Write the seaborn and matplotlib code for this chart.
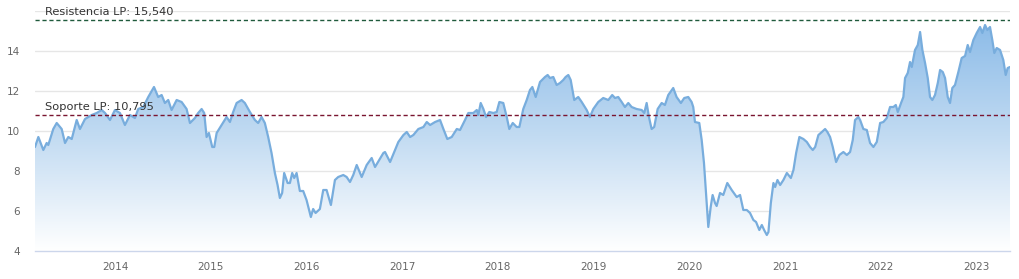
import numpy as np
import pandas as pd
import matplotlib
matplotlib.use("Agg")
import matplotlib.pyplot as plt
import matplotlib.dates as mdates
from matplotlib.colors import LinearSegmentedColormap
from matplotlib.patches import PathPatch
import seaborn as sns

# ---- data (decimal year, price) ----
fecha = [
    2013.164, 2013.199, 2013.251, 2013.286, 2013.303, 2013.355, 2013.391, 2013.443, 2013.478, 2013.512,
    2013.548, 2013.600, 2013.634, 2013.687, 2013.757, 2013.809, 2013.861, 2013.896, 2013.948, 2014.000,
    2014.052, 2014.104, 2014.157, 2014.209, 2014.243, 2014.296, 2014.348, 2014.408, 2014.452, 2014.488,
    2014.522, 2014.557, 2014.592, 2014.645, 2014.697, 2014.749, 2014.784, 2014.836, 2014.870, 2014.906,
    2014.933, 2014.958, 2014.982, 2015.017, 2015.038, 2015.063, 2015.115, 2015.167, 2015.202, 2015.236,
    2015.272, 2015.324, 2015.358, 2015.411, 2015.463, 2015.497, 2015.533, 2015.567, 2015.602, 2015.637,
    2015.672, 2015.700, 2015.724, 2015.748, 2015.769, 2015.805, 2015.829, 2015.853, 2015.874, 2015.899,
    2015.933, 2015.968, 2016.003, 2016.048, 2016.072, 2016.097, 2016.142, 2016.177, 2016.212, 2016.257,
    2016.299, 2016.333, 2016.386, 2016.421, 2016.456, 2016.490, 2016.526, 2016.578, 2016.630, 2016.682,
    2016.717, 2016.804, 2016.821, 2016.874, 2016.926, 2016.960, 2017.013, 2017.048, 2017.083, 2017.117,
    2017.169, 2017.222, 2017.257, 2017.292, 2017.344, 2017.396, 2017.431, 2017.472, 2017.518, 2017.571,
    2017.605, 2017.657, 2017.692, 2017.744, 2017.780, 2017.796, 2017.821, 2017.849, 2017.877, 2017.911,
    2017.953, 2017.988, 2018.016, 2018.057, 2018.093, 2018.120, 2018.156, 2018.197, 2018.225, 2018.266,
    2018.302, 2018.336, 2018.361, 2018.396, 2018.441, 2018.493, 2018.521, 2018.545, 2018.580, 2018.615,
    2018.650, 2018.684, 2018.709, 2018.737, 2018.762, 2018.799, 2018.841, 2018.877, 2018.929, 2018.963,
    2018.998, 2019.050, 2019.102, 2019.155, 2019.196, 2019.225, 2019.259, 2019.295, 2019.329, 2019.364,
    2019.399, 2019.451, 2019.504, 2019.531, 2019.556, 2019.580, 2019.608, 2019.635, 2019.671, 2019.713,
    2019.747, 2019.782, 2019.834, 2019.869, 2019.914, 2019.949, 2019.991, 2020.026, 2020.043, 2020.061,
    2020.106, 2020.131, 2020.155, 2020.176, 2020.200, 2020.225, 2020.245, 2020.270, 2020.287, 2020.322,
    2020.356, 2020.398, 2020.444, 2020.496, 2020.531, 2020.565, 2020.601, 2020.635, 2020.670, 2020.698,
    2020.732, 2020.758, 2020.782, 2020.810, 2020.827, 2020.852, 2020.879, 2020.897, 2020.921, 2020.949,
    2020.983, 2021.019, 2021.061, 2021.088, 2021.116, 2021.150, 2021.192, 2021.228, 2021.262, 2021.290,
    2021.315, 2021.349, 2021.385, 2021.419, 2021.443, 2021.471, 2021.499, 2021.534, 2021.568, 2021.610,
    2021.646, 2021.680, 2021.708, 2021.732, 2021.767, 2021.785, 2021.819, 2021.855, 2021.889, 2021.924,
    2021.959, 2021.994, 2022.028, 2022.064, 2022.098, 2022.133, 2022.158, 2022.179, 2022.213, 2022.237,
    2022.255, 2022.283, 2022.307, 2022.325, 2022.359, 2022.388, 2022.412, 2022.436, 2022.464, 2022.492,
    2022.516, 2022.540, 2022.568, 2022.597, 2022.621, 2022.649, 2022.673, 2022.701, 2022.725, 2022.749,
    2022.777, 2022.812, 2022.847, 2022.882, 2022.910, 2022.934, 2022.969, 2023.004, 2023.039, 2023.063,
    2023.091, 2023.115, 2023.143, 2023.167, 2023.188, 2023.213, 2023.248, 2023.282, 2023.307, 2023.328,
    2023.352,
]
precio = [
    9.2, 9.7, 9.05, 9.4, 9.3, 10.1, 10.4, 10.1, 9.4, 9.7,
    9.6, 10.55, 10.1, 10.6, 10.8, 10.9, 11.05, 10.9, 10.55, 11.05,
    10.9, 10.3, 10.8, 10.65, 11.1, 11.2, 11.7, 12.2, 11.7, 11.8,
    11.4, 11.55, 11.05, 11.55, 11.45, 11.1, 10.4, 10.65, 10.9, 11.1,
    10.9, 9.7, 9.9, 9.2, 9.2, 9.9, 10.3, 10.7, 10.45, 10.95,
    11.4, 11.55, 11.4, 10.95, 10.55, 10.4, 10.7, 10.4, 9.7, 8.9,
    7.9, 7.3, 6.65, 6.9, 7.9, 7.4, 7.4, 7.9, 7.65, 7.9,
    7.0, 7.0, 6.55, 5.7, 6.1, 5.9, 6.1, 7.05, 7.05, 6.3,
    7.55, 7.7, 7.8, 7.7, 7.45, 7.8, 8.3, 7.7, 8.3, 8.65,
    8.2, 8.9, 8.95, 8.45, 9.05, 9.45, 9.8, 9.95, 9.7, 9.8,
    10.1, 10.2, 10.45, 10.3, 10.45, 10.55, 10.1, 9.6, 9.7, 10.1,
    10.05, 10.55, 10.9, 10.9, 11.05, 10.8, 11.4, 11.1, 10.7, 10.95,
    10.9, 10.95, 11.45, 11.4, 10.7, 10.1, 10.4, 10.2, 10.2, 11.1,
    11.55, 12.05, 12.2, 11.7, 12.45, 12.7, 12.8, 12.65, 12.7, 12.3,
    12.4, 12.55, 12.7, 12.8, 12.55, 11.55, 11.7, 11.45, 11.05, 10.7,
    11.1, 11.45, 11.65, 11.55, 11.8, 11.65, 11.7, 11.45, 11.2, 11.4,
    11.2, 11.1, 11.05, 10.9, 11.4, 10.7, 10.1, 10.2, 11.1, 11.4,
    11.3, 11.8, 12.15, 11.7, 11.4, 11.65, 11.7, 11.45, 11.2, 10.45,
    10.4, 9.55, 8.4, 6.9, 5.2, 6.2, 6.8, 6.4, 6.25, 6.9,
    6.8, 7.4, 7.05, 6.7, 6.8, 6.05, 6.05, 5.9, 5.55, 5.45,
    5.05, 5.3, 5.05, 4.8, 4.95, 6.4, 7.4, 7.2, 7.55, 7.3,
    7.55, 7.9, 7.65, 8.05, 8.9, 9.7, 9.6, 9.45, 9.2, 9.05,
    9.2, 9.8, 9.95, 10.1, 9.95, 9.7, 9.2, 8.45, 8.8, 8.95,
    8.8, 8.95, 9.55, 10.55, 10.7, 10.55, 10.1, 10.05, 9.4, 9.2,
    9.45, 10.4, 10.45, 10.65, 11.2, 11.2, 11.3, 10.95, 11.4, 11.7,
    12.65, 12.9, 13.45, 13.2, 14.05, 14.3, 14.95, 14.05, 13.4, 12.65,
    11.7, 11.55, 11.8, 12.4, 13.05, 12.95, 12.65, 11.7, 11.4, 12.15,
    12.3, 12.95, 13.65, 13.75, 14.3, 13.95, 14.55, 14.9, 15.2, 14.9,
    15.3, 15.05, 15.2, 14.55, 13.9, 14.15, 14.05, 13.55, 12.8, 13.15,
    13.2,
]
resistencia = 15.540
soporte = 10.795
etiqueta_res = "Resistencia LP: 15,540"
etiqueta_sop = "Soporte LP: 10,795"
y_ticks = [4, 6, 8, 10, 12, 14, 16]
y_labels = ["4", "6", "8", "10", "12", "14", ""]


def to_dt(y):
    yr = int(y)
    start = pd.Timestamp(f"{yr}-01-01")
    end = pd.Timestamp(f"{yr + 1}-01-01")
    return start + (end - start) * (y - yr)


dates = [to_dt(y) for y in fecha]
xn = mdates.date2num(dates)
df = pd.DataFrame({"x": xn, "precio": precio})

sns.set_style("white")
plt.rcParams["font.family"] = ["DejaVu Sans"]

fig = plt.figure(figsize=(10.2, 2.79), dpi=100)
ax = fig.add_axes([35 / 1020, 1 - 251 / 279, 975 / 1020, 240 / 279])

ymin, ymax = 4, 16
ax.set_xlim(xn[0], xn[-1])
ax.set_ylim(ymin, ymax)

# gradient fill clipped to area under the curve
cmap = LinearSegmentedColormap.from_list(
    "grad", [(0.0, "#ffffff"), (0.5, "#c2dbf2"), (1.0, "#8bbbe8")]
)
grad = np.linspace(0, 1, 256).reshape(-1, 1)
im = ax.imshow(grad, extent=[xn[0], xn[-1], ymin, 15.5], origin="lower",
               aspect="auto", cmap=cmap, zorder=1, interpolation="bicubic")
poly = ax.fill_between(xn, precio, ymin, facecolor="none", edgecolor="none")
patch = PathPatch(poly.get_paths()[0], transform=ax.transData,
                  facecolor="none", edgecolor="none")
ax.add_patch(patch)
im.set_clip_path(patch)

sns.lineplot(data=df, x="x", y="precio", ax=ax, color="#78addd",
             linewidth=1.6, zorder=3, legend=False)

# grid
for yt in y_ticks[1:]:
    ax.axhline(yt, color="#e6e6e6", linewidth=1, zorder=0)

# support / resistance
ax.axhline(resistencia, color="#1f5a3c", linewidth=1, linestyle=(0, (3, 2)), zorder=4)
ax.axhline(soporte, color="#7a1530", linewidth=1, linestyle=(0, (3, 2)), zorder=4)
ax.annotate(etiqueta_res, xy=(0, resistencia), xycoords=ax.get_yaxis_transform(),
            xytext=(7, 2), textcoords="offset points", fontsize=8.2,
            color="#333333", va="bottom", ha="left", zorder=5)
ax.annotate(etiqueta_sop, xy=(0, soporte), xycoords=ax.get_yaxis_transform(),
            xytext=(7, 2), textcoords="offset points", fontsize=8.2,
            color="#333333", va="bottom", ha="left", zorder=5)

# axes styling
for s in ["left", "right", "top"]:
    ax.spines[s].set_visible(False)
ax.spines["bottom"].set_color("#ccd6eb")
ax.spines["bottom"].set_linewidth(1)

ax.set_yticks(y_ticks)
ax.set_yticklabels(y_labels)
ax.tick_params(axis="y", length=0, pad=11, labelsize=7.5, labelcolor="#666666")

ax.xaxis.set_major_locator(mdates.YearLocator())
ax.xaxis.set_major_formatter(mdates.DateFormatter("%Y"))
ax.tick_params(axis="x", length=5, width=1, color="#ccd6eb", pad=3,
               labelsize=7.5, labelcolor="#666666")
ax.set_xlabel("")
ax.set_ylabel("")

fig.savefig("out.png", dpi=100)
